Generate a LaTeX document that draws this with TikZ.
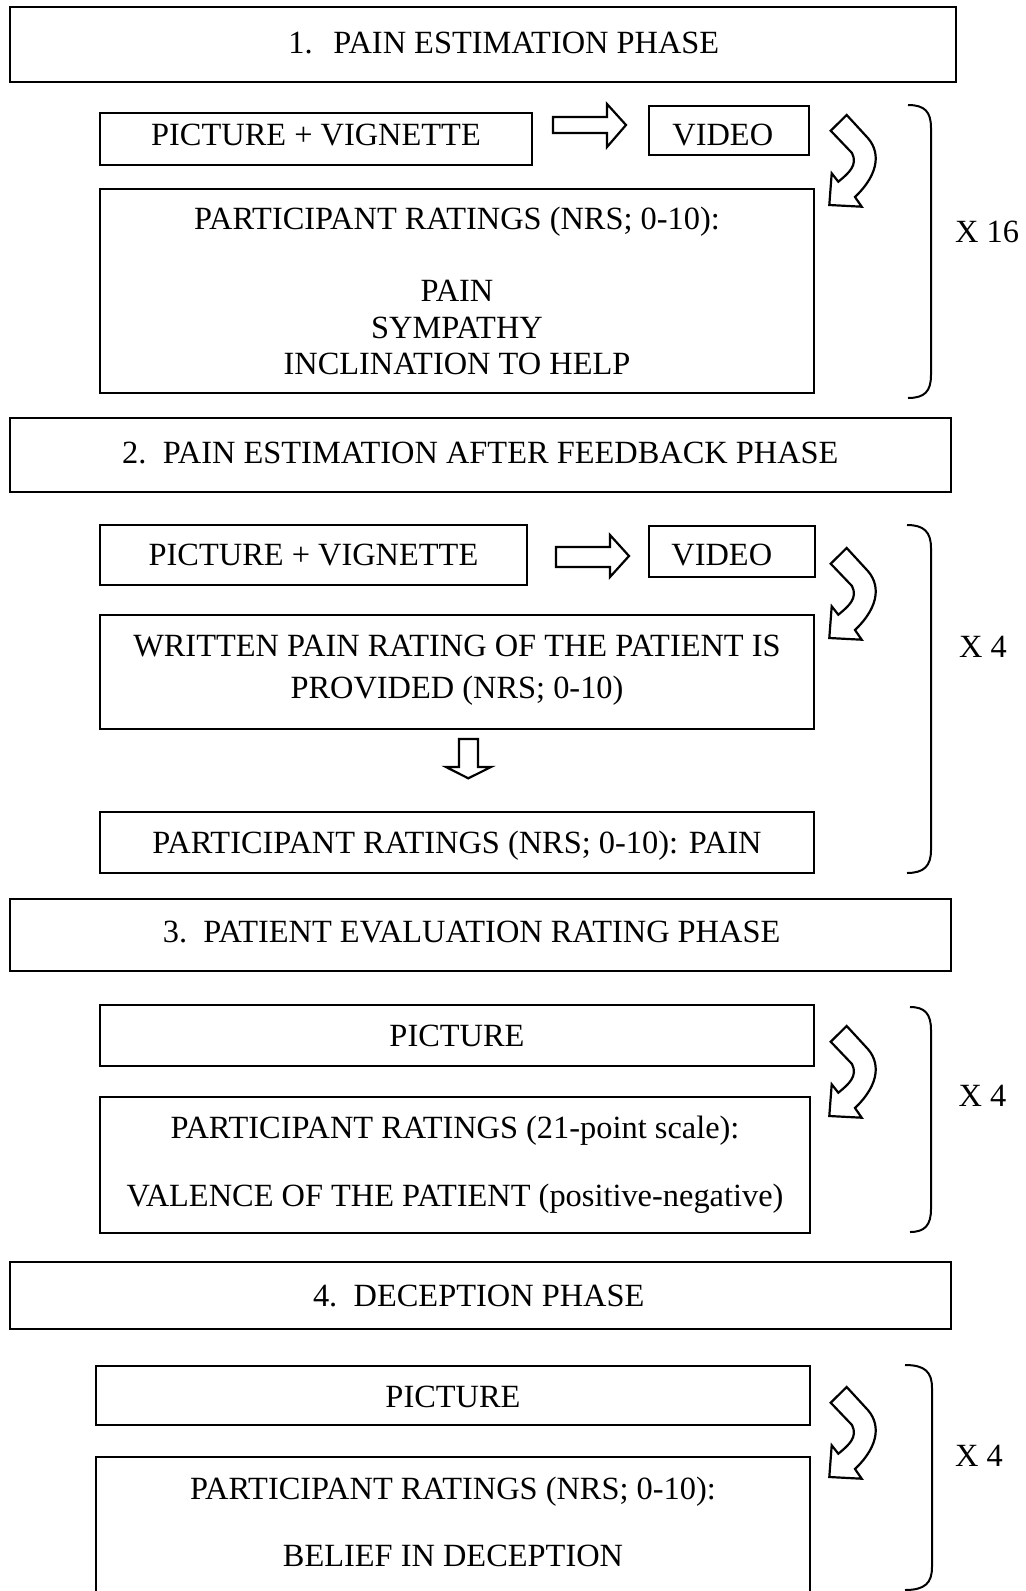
\documentclass[tikz,border=0pt]{standalone}
\usepackage{fontspec}
\setmainfont{Liberation Serif}
\usetikzlibrary{fit}

\tikzset{
  frame/.style={draw, line width=1pt, inner sep=0pt},
  lbl/.style={inner sep=0pt, anchor=base, font=\fontsize{16.2}{19}\selectfont},
  lblw/.style={lbl, anchor=base west},
  outline/.style={draw, line width=1.1pt, line join=miter, fill=white},
  brace/.style={draw, line width=1pt},
  turnarrow/.pic={
    \path[outline] (1.7,15.7) -- (17.7,0) -- (37,21)
      .. controls (51,35) and (52,57) .. (26,82)
      -- (32.7,91.7) -- (0.3,90) -- (2.7,58.3) -- (9.3,66.7)
      .. controls (20,58) and (29,50) .. (23,38) -- cycle;
  }
}

\begin{document}
\begin{tikzpicture}[x=0.5pt, y=-0.5pt]
\useasboundingbox (0,0) rectangle (1025,1591);

% ---------- phase 1 ----------
\node[frame, fit={(10,7) (956,82)}] (b1) {};
\node[lblw] (b1t) at (288,53.3) {1.\hspace{10.4pt}PAIN ESTIMATION PHASE};

\node[frame, fit={(100,113) (532,165)}] (r1a) {};
\node[lbl] (r1at) at (316,145.6) {PICTURE + VIGNETTE};
\node[frame, fit={(649,106) (809,155)}] (r1v) {};
\node[lblw] (r1vt) at (672,145) {VIDEO};
\path[outline] (553,117) -- (607,117) -- (607,104) -- (626,125) -- (607,147) -- (607,133) -- (553,133) -- cycle;
\pic at (829,115) {turnarrow};

\node[frame, fit={(100,189) (814,393)}] (r1r) {};
\node[lbl] (r1r1) at (457,229.6) {PARTICIPANT RATINGS (NRS; 0-10):};
\node[lbl] (r1r2) at (457,301.6) {PAIN};
\node[lbl] (r1r3) at (457,338.6) {SYMPATHY};
\node[lbl] (r1r4) at (457,374.6) {INCLINATION TO HELP};

\draw[brace] (908,105) .. controls (925,105) and (931,112) .. (931,128)
  -- (931,375) .. controls (931,391) and (925,398) .. (908,398);
\node[lbl] (x1) at (987,242) {X 16};

% ---------- phase 2 ----------
\node[frame, fit={(10,418) (951,492)}] (b2) {};
\node[lblw] (b2t) at (121.8,463.4) {2.\hspace{8.2pt}PAIN ESTIMATION AFTER FEEDBACK PHASE};

\node[frame, fit={(100,525) (527,585)}] (r2a) {};
\node[lbl] (r2at) at (313.5,565.6) {PICTURE + VIGNETTE};
\node[frame, fit={(649,526) (815,577)}] (r2v) {};
\node[lblw] (r2vt) at (671,565) {VIDEO};
\path[outline] (556,547) -- (610,547) -- (610,535) -- (629,556) -- (610,577) -- (610,567) -- (556,567) -- cycle;
\pic at (829,548) {turnarrow};

\node[frame, fit={(100,615) (814,729)}] (r2w) {};
\node[lbl] (r2w1) at (457,656) {WRITTEN PAIN RATING OF THE PATIENT IS};
\node[lbl] (r2w2) at (457,698.6) {PROVIDED (NRS; 0-10)};

\path[outline] (459,739) -- (478,739) -- (478,767) -- (491,767) -- (468.3,778.3) -- (446,767) -- (459,767) -- cycle;

\node[frame, fit={(100,812) (814,873)}] (r2p) {};
\node[lbl] (r2pt) at (457,853) {PARTICIPANT RATINGS (NRS; 0-10): PAIN};

\draw[brace] (907,525) .. controls (924,525) and (931,532) .. (931,548)
  -- (931,850) .. controls (931,866) and (924,873) .. (907,873);
\node[lbl] (x2) at (983,657) {X 4};

% ---------- phase 3 ----------
\node[frame, fit={(10,899) (951,971)}] (b3) {};
\node[lblw] (b3t) at (162.4,942.4) {3.\hspace{8.2pt}PATIENT EVALUATION RATING PHASE};

\node[frame, fit={(100,1005) (814,1066)}] (r3a) {};
\node[lbl] (r3at) at (457,1046.7) {PICTURE};
\pic at (829,1026) {turnarrow};

\node[frame, fit={(100,1097) (810,1233)}] (r3r) {};
\node[lbl] (r3r1) at (455,1138) {PARTICIPANT RATINGS (21-point scale):};
\node[lbl] (r3r2) at (455,1206) {VALENCE OF THE PATIENT (positive-negative)};

\draw[brace] (910,1007) .. controls (925,1007) and (931,1014) .. (931,1030)
  -- (931,1209) .. controls (931,1225) and (925,1232) .. (910,1232);
\node[lbl] (x3) at (982.5,1106) {X 4};

% ---------- phase 4 ----------
\node[frame, fit={(10,1262) (951,1329)}] (b4) {};
\node[lblw] (b4t) at (312.6,1306.8) {4.\hspace{8.2pt}DECEPTION PHASE};

\node[frame, fit={(96,1366) (810,1425)}] (r4a) {};
\node[lbl] (r4at) at (453,1407) {PICTURE};
\pic at (829,1387) {turnarrow};

\node[frame, fit={(96,1457) (810,1600)}] (r4r) {};
\node[lbl] (r4r1) at (453,1499) {PARTICIPANT RATINGS (NRS; 0-10):};
\node[lbl] (r4r2) at (453,1566) {BELIEF IN DECEPTION};

\draw[brace] (905,1365) .. controls (925,1365) and (932,1372) .. (932,1388)
  -- (932,1567) .. controls (932,1583) and (925,1590) .. (905,1590);
\node[lbl] (x4) at (979,1466) {X 4};
\end{tikzpicture}
\end{document}
